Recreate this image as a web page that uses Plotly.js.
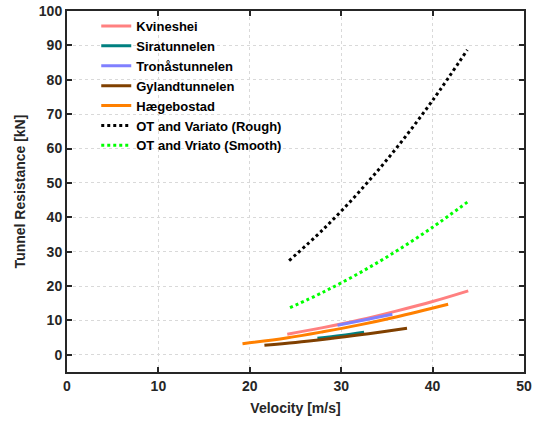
<!DOCTYPE html>
<html>
<head>
<meta charset="utf-8">
<script src="https://cdn.plot.ly/plotly-3.0.1.min.js"></script>
<style>html,body{margin:0;padding:0;background:#fff;}#chart{width:536px;height:423px;}</style>
</head>
<body>
<div id="chart"></div>
<script>
// Series values (velocity [m/s], resistance [kN])
const seriesNames = ["Kvineshei","Siratunnelen","Tronåstunnelen","Gylandtunnelen","Hægebostad","OT and Variato (Rough)","OT and Vriato (Smooth)"];

const kvinesheiV = [24.1, 28, 32, 36, 40, 43.9];
const kvinesheiR = [6.0, 7.9, 10.1, 12.7, 15.5, 18.6];

const siraV = [27.4, 30, 32.5];
const siraR = [4.8, 5.6, 6.6];

const tronaV = [29.6, 32.5, 35.6];
const tronaR = [8.6, 10.1, 11.8];

const gylandV = [21.6, 25, 29, 33, 37.2];
const gylandR = [2.8, 3.6, 4.8, 6.1, 7.7];

const haegebostadV = [19.2, 24, 28, 32, 36, 41.7];
const haegebostadR = [3.2, 4.9, 6.7, 8.7, 11.0, 14.7];

const roughV = [24.3, 28, 32, 36, 40, 43.8];
const roughR = [27.4, 36.4, 47.5, 60.0, 74.0, 88.7];

const smoothV = [24.4, 28, 32, 36, 40, 43.8];
const smoothR = [13.7, 18.2, 23.8, 30.1, 37.1, 44.4];

const xTicks = [0, 10, 20, 30, 40, 50];
const yTicks = [0, 10, 20, 30, 40, 50, 60, 70, 80, 90, 100];

const colors = ["#ff8080", "#008080", "#8080ff", "#804000", "#ff8000", "#000000", "#00ff00"];
const xs = [kvinesheiV, siraV, tronaV, gylandV, haegebostadV, roughV, smoothV];
const ys = [kvinesheiR, siraR, tronaR, gylandR, haegebostadR, roughR, smoothR];

const traces = seriesNames.map((n, i) => ({
  x: xs[i], y: ys[i], name: n, type: 'scatter', mode: 'lines',
  line: {color: colors[i], width: 3, dash: i >= 5 ? 'dot' : 'solid', shape: 'spline'}
}));

const fontFam = "Arial";
const axisCommon = {
  showline: true, linecolor: '#262626', linewidth: 2, mirror: 'ticks',
  ticks: 'inside', ticklen: 5, tickwidth: 2, tickcolor: '#262626',
  showgrid: true, gridcolor: '#d9d9d9', gridwidth: 1, griddash: 'dot',
  zeroline: false,
  tickfont: {family: fontFam, size: 14, color: '#262626', weight: 'bold'}
};

const layout = {
  width: 536, height: 423,
  margin: {l: 67, r: 12, t: 11, b: 51},
  paper_bgcolor: '#fff', plot_bgcolor: '#fff',
  showlegend: true,
  legend: {
    x: 0.064, y: 1.0, xanchor: 'left', yanchor: 'top',
    bgcolor: 'rgba(255,255,255,0)', borderwidth: 0,
    font: {family: fontFam, size: 13, color: '#000', weight: 'bold'},
    tracegroupgap: 0
  },
  xaxis: Object.assign({}, axisCommon, {
    range: [0, 50], tickvals: xTicks,
    title: {text: 'Velocity [m/s]', font: {family: fontFam, size: 14, color: '#262626', weight: 'bold'}, standoff: 10}
  }),
  yaxis: Object.assign({}, axisCommon, {
    range: [-5, 100], tickvals: yTicks,
    title: {text: 'Tunnel Resistance [kN]', font: {family: fontFam, size: 14, color: '#262626', weight: 'bold'}, standoff: 10}
  })
};

Plotly.newPlot('chart', traces, layout, {displayModeBar: false, staticPlot: true});
</script>
</body>
</html>
